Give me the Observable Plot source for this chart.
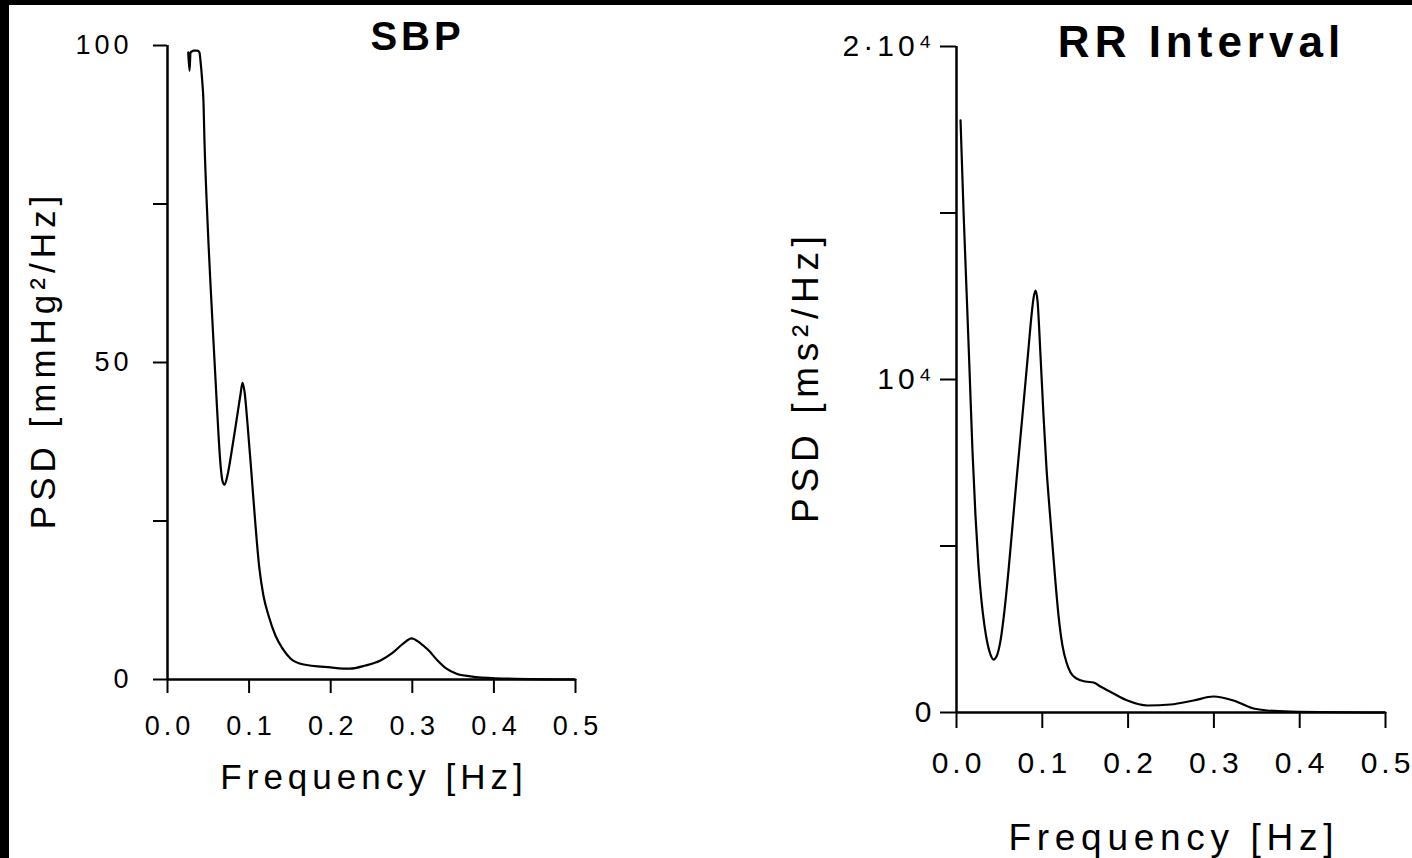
<!DOCTYPE html>
<html><head><meta charset="utf-8">
<script src="https://cdn.jsdelivr.net/npm/d3@7"></script>
<script src="https://cdn.jsdelivr.net/npm/@observablehq/plot@0.6"></script>
<style>
html,body{margin:0;padding:0;background:#000;width:1412px;height:858px;overflow:hidden}
#paper{position:absolute;left:9px;top:5px;width:1403px;height:853px;background:#fff}
.panel{position:absolute;top:0;width:706px;height:858px}
.panel svg{max-width:none !important;height:858px !important}
</style></head><body>
<div id="paper"></div>
<div id="left" class="panel" style="left:0px"></div>
<div id="right" class="panel" style="left:706px"></div>
<script>
// ---- data ----
const freqTicks = [0, 0.1, 0.2, 0.3, 0.4, 0.5];

const sbpFreq = [0.0254,0.0270,0.0282,0.0303,0.0319,0.0364,0.0392,0.0404,0.0425,0.0441,0.0453,0.0478,0.0502,0.0527,0.0564,0.0600,0.0625,0.0650,0.0674,0.0699,0.0735,0.0784,0.0846,0.0895,0.0919,0.0944,0.0980,0.1029,0.1054,0.1127,0.1176,0.1238,0.1324,0.1409,0.1507,0.1654,0.1998,0.2230,0.2426,0.2610,0.2757,0.2892,0.2990,0.3100,0.3199,0.3309,0.3419,0.3542,0.3713,0.4020,0.5000];
const sbpPsd  = [98.9,96.0,98.9,99.1,99.2,99.2,98.9,97.6,94.5,91.1,85.0,76.0,68.9,62.3,53.2,44.5,38.6,33.8,31.3,30.7,32.2,35.8,40.9,45.0,46.8,45.4,40.4,32.5,28.3,17.4,13.2,10.1,6.9,4.9,3.3,2.4,1.9,1.7,2.2,3.0,4.2,5.7,6.5,5.7,4.6,3.0,1.7,0.9,0.5,0.2,0];
const sbpTicks = [0, 25, 50, 75, 100];
const sbpTickLabels = ["0", "", "50", "", "100"];

const rrFreq = [0.0047,0.0082,0.0117,0.0152,0.0186,0.0221,0.0256,0.0291,0.0326,0.0361,0.0396,0.0431,0.0466,0.0513,0.0559,0.0606,0.0653,0.0699,0.0746,0.0793,0.0839,0.0874,0.0897,0.0921,0.0944,0.0979,0.1014,0.1049,0.1084,0.1119,0.1154,0.1189,0.1235,0.1282,0.1329,0.1399,0.1503,0.1597,0.1678,0.1830,0.1993,0.2226,0.2494,0.2762,0.2995,0.3228,0.3462,0.3625,0.3893,0.5000];
const rrPsd  = [17780,15050,12670,10270,7870,5920,4410,3360,2610,2070,1740,1590,1680,2160,3060,4260,5620,6970,8290,9610,10930,11920,12430,12670,12370,10720,8920,7330,6130,5020,3900,2910,2010,1500,1200,1020,930,900,780,570,360,210,240,360,480,360,120,60,30,0];
const rrTicks = [0, 5000, 10000, 15000, 20000];
const rrTickLabels = ["0", "", "10⁴", "", "2·10⁴"];

const FONT = "'Liberation Sans', Arial, Helvetica, sans-serif";

function spaceText(svg, content, spacing, shift) {
  svg.querySelectorAll("text").forEach(t => {
    if (t.textContent === content) {
      t.style.letterSpacing = spacing + "px";
      t.setAttribute("dx", shift);
    }
  });
}
function spaceGroup(svg, name, spacing, shift) {
  svg.querySelectorAll(`g[aria-label="${name}"] text`).forEach(t => {
    t.style.letterSpacing = spacing + "px";
    t.setAttribute("dx", shift);
  });
}

function panel(cfg) {
  const data = cfg.freq.map((f, i) => ({f, p: cfg.psd[i]}));
  const labelMap = new Map(cfg.yTicks.map((t, i) => [t, cfg.yTickLabels[i]]));
  const svg = Plot.plot({
    width: 706, height: 858,
    marginLeft: cfg.ml, marginRight: cfg.mr, marginTop: cfg.mt, marginBottom: cfg.mb,
    style: {background: "transparent", color: "#000", fontFamily: FONT, overflow: "visible", maxWidth: "none"},
    x: {domain: [0, 0.5]},
    y: {domain: [0, cfg.yTicks[cfg.yTicks.length - 1]]},
    marks: [
      Plot.axisX({ticks: freqTicks, tickFormat: d3.format(".1f"), tickSize: cfg.xTickSize, tickPadding: cfg.xPad,
                  fontSize: cfg.tickFont, strokeWidth: 2, label: null}),
      Plot.axisY({ticks: cfg.yTicks, tickFormat: d => labelMap.get(d), tickSize: cfg.yTickSize, tickPadding: cfg.yPad,
                  fontSize: cfg.tickFont, strokeWidth: 2, label: null}),
      Plot.ruleX([0], {strokeWidth: 2.5}),
      Plot.ruleY([0], {strokeWidth: 2.5}),
      Plot.line(data, {x: "f", y: "p", strokeWidth: 2.2, curve: "monotone-x"}),
      Plot.text([cfg.title], {text: d => d, frameAnchor: "top", textAnchor: "middle", lineAnchor: "middle",
                 dx: cfg.titleDx, dy: cfg.titleDy, fontSize: cfg.titleFont, fontWeight: "bold"}),
      Plot.text([cfg.xLabel], {text: d => d, frameAnchor: "bottom", textAnchor: "middle", lineAnchor: "middle",
                 dy: cfg.xLabelDy, fontSize: cfg.labelFont}),
      Plot.text([cfg.yLabel], {text: d => d, frameAnchor: "left", textAnchor: "middle", lineAnchor: "middle",
                 dx: cfg.yLabelDx, rotate: -90, fontSize: cfg.labelFont})
    ]
  });
  svg.style.position = "absolute";
  svg.style.left = "0px";
  svg.style.top = "0px";
  spaceText(svg, cfg.title, cfg.titleSpacing, cfg.titleSpacing / 2);
  spaceText(svg, cfg.xLabel, cfg.labelSpacing, cfg.labelSpacing / 2);
  spaceText(svg, cfg.yLabel, cfg.labelSpacing, cfg.labelSpacing / 2);
  spaceGroup(svg, "x-axis tick label", cfg.tickSpacing, cfg.tickSpacing / 2);
  spaceGroup(svg, "y-axis tick label", cfg.tickSpacing, cfg.tickSpacing);
  document.getElementById(cfg.id).appendChild(svg);
}

panel({
  id: "left", freq: sbpFreq, psd: sbpPsd, yTicks: sbpTicks, yTickLabels: sbpTickLabels,
  ml: 167, mr: 131, mt: 45, mb: 179,
  xTickSize: 14, xPad: 22, yTickSize: 14, yPad: 25, tickFont: 27, tickSpacing: 4,
  title: "SBP", titleFont: 40, titleSpacing: 4, titleDx: 44, titleDy: -8,
  xLabel: "Frequency [Hz]", xLabelDy: 98, yLabel: "PSD [mmHg²/Hz]", yLabelDx: -124,
  labelFont: 35, labelSpacing: 5
});

panel({
  id: "right", freq: rrFreq, psd: rrPsd, yTicks: rrTicks, yTickLabels: rrTickLabels,
  ml: 250, mr: 27, mt: 46, mb: 146,
  xTickSize: 16, xPad: 23, yTickSize: 16, yPad: 9, tickFont: 30, tickSpacing: 4,
  title: "RR Interval", titleFont: 44, titleSpacing: 5, titleDx: 28, titleDy: -4,
  xLabel: "Frequency [Hz]", xLabelDy: 126, yLabel: "PSD [ms²/Hz]", yLabelDx: -150,
  labelFont: 37, labelSpacing: 5.7
});
</script>
</body></html>
